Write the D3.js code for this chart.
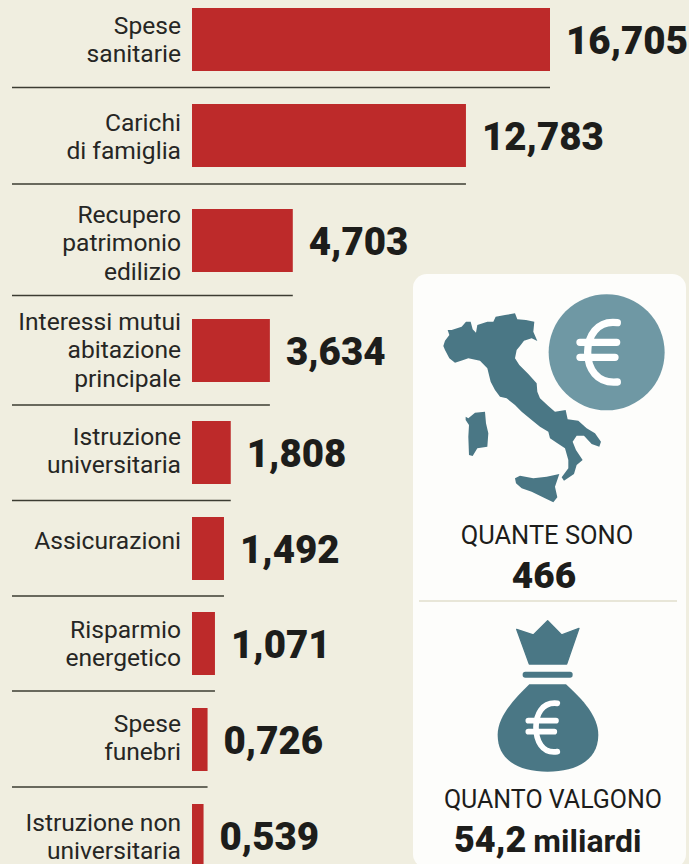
<!DOCTYPE html>
<html><head><meta charset="utf-8">
<script src="https://cdn.jsdelivr.net/npm/d3@7"></script>
<style>html,body{margin:0;padding:0;background:#f0eee0;overflow:hidden}svg{display:block}text{font-family:Roboto,sans-serif}</style>
</head><body><svg id="c" width="689" height="864"></svg>
<script>
const categories=["Spese sanitarie","Carichi di famiglia","Recupero patrimonio edilizio","Interessi mutui abitazione principale","Istruzione universitaria","Assicurazioni","Risparmio energetico","Spese funebri","Istruzione non universitaria"];
const labelLines=[["Spese","sanitarie"],["Carichi","di famiglia"],["Recupero","patrimonio","edilizio"],["Interessi mutui","abitazione","principale"],["Istruzione","universitaria"],["Assicurazioni"],["Risparmio","energetico"],["Spese","funebri"],["Istruzione non","universitaria"]];
const values=[16.705,12.783,4.703,3.634,1.808,1.492,1.071,0.726,0.539];
const valueLabels=["16,705","12,783","4,703","3,634","1,808","1,492","1,071","0,726","0,539"];
const rowTops=[8,104,209,319,421,517,612,708,804];
const labelBaselines=[34,131,223,330,445,549,638,732,831];
const ruleYs=[87.5,184,295.5,405,500.5,596,691,787];
const italy=[[130,228],[135,212],[148,195],[143,180],[155,180],[185,170],[198,155],[212,155],[218,178],[228,188],[232,165],[262,155],[280,155],[287,140],[315,135],[345,130],[352,148],[378,150],[403,155],[400,185],[412,213],[395,205],[372,212],[360,228],[350,240],[345,265],[358,285],[385,312],[410,340],[412,365],[420,385],[445,408],[465,425],[497,420],[503,448],[535,452],[560,475],[585,490],[603,515],[598,530],[575,522],[552,497],[530,497],[518,515],[528,540],[548,570],[530,585],[522,612],[492,632],[485,622],[505,595],[505,570],[495,535],[470,518],[450,505],[445,485],[420,470],[395,450],[365,425],[345,405],[320,385],[300,380],[285,360],[272,335],[262,295],[240,272],[205,265],[190,270],[165,278],[148,265],[135,240]];
const sardinia=[[197,440],[205,445],[225,428],[255,425],[258,460],[265,490],[262,530],[232,535],[218,558],[207,555],[205,500],[207,465],[197,450]];
const sicily=[[345,625],[360,617],[400,625],[440,620],[478,612],[465,650],[472,682],[460,697],[435,685],[395,665],[365,655],[348,640]];

const svg=d3.select("#c");
const ink="#1d1d1b",red="#bd2a2a",teal="#4a7785";
const x=d3.scaleLinear().domain([0,16.705]).range([192,550]);
const y=d3.scaleOrdinal().domain(categories).range(rowTops);
const labY=d3.scaleOrdinal().domain(categories).range(labelBaselines);
const barH=63;
svg.append("rect").attr("width",689).attr("height",864).attr("fill","#f0eee0");

const rows=categories.map((c,i)=>({c,v:values[i],lines:labelLines[i],t:valueLabels[i],i}));
svg.selectAll(".bar").data(rows).join("rect").attr("class","bar")
 .attr("x",x(0)).attr("y",d=>y(d.c)).attr("width",d=>x(d.v)-x(0)).attr("height",barH).attr("fill",red);
svg.selectAll(".rule").data(rows.slice(0,ruleYs.length)).join("line").attr("class","rule")
 .attr("x1",12).attr("x2",d=>x(d.v)).attr("y1",d=>ruleYs[d.i]).attr("y2",d=>ruleYs[d.i])
 .attr("stroke","#3c3c32").attr("stroke-width",1.4);
svg.selectAll(".val").data(rows).join("text").attr("class","val")
 .attr("x",d=>x(d.v)+16).attr("y",d=>y(d.c)+45.5)
 .attr("font-size",38.5).attr("font-weight",900).attr("fill",ink).text(d=>d.t);
const lh=28.3;
rows.forEach(d=>{
 d.lines.forEach((l,j)=>{
  svg.append("text").attr("class","lab").attr("x",181).attr("text-anchor","end")
   .attr("y",labY(d.c)+j*lh).attr("font-size",24.6).attr("fill","#262624").text(l);
 });
});

// panel
svg.append("rect").attr("x",413).attr("y",274).attr("width",273).attr("height",594).attr("rx",14).attr("fill","#fdfdfb");
svg.append("line").attr("x1",419).attr("x2",677).attr("y1",601).attr("y2",601).attr("stroke","#e8e6d8").attr("stroke-width",2);
const Z1=svg.append("g").attr("transform","translate(400,270) scale(0.3333)");
const line=d3.line().curve(d3.curveLinearClosed);
[italy,sardinia,sicily].forEach(p=>Z1.append("path").attr("d",line(p)).attr("fill",teal));
Z1.append("circle").attr("cx",620).attr("cy",247).attr("r",174).attr("fill","#6f98a4");
Z1.append("path").attr("d","M652 158 C590 150 563 200 563 247 C563 295 590 342 652 336 M540 217 H650 M540 262 H645").attr("fill","none").attr("stroke","#fff").attr("stroke-width",22).attr("stroke-linecap","round");
const Z2=svg.append("g").attr("transform","translate(400,590) scale(0.3333)");
Z2.append("path").attr("d","M350 118 L400 135 L443 92 L485 135 L537 115 L500 222 L388 222 Z").attr("fill",teal).attr("stroke",teal).attr("stroke-width",4).attr("stroke-linejoin","round");
Z2.append("rect").attr("x",368).attr("y",245).attr("width",150).attr("height",18).attr("rx",8).attr("fill",teal);
Z2.append("path").attr("d","M388 283 L498 283 C550 330 595 380 595 435 C595 510 530 545 443 545 C355 545 293 510 293 435 C293 380 340 330 388 283 Z").attr("fill",teal);
Z2.append("path").attr("d","M472 340 C425 335 408 375 408 412 C408 450 425 492 472 485 M385 392 H468 M385 425 H463").attr("fill","none").attr("stroke","#fff").attr("stroke-width",17).attr("stroke-linecap","round");

const tx=(t,xx,yy,fs,fw,anchor)=>svg.append("text").attr("x",xx).attr("y",yy).attr("font-size",fs).attr("font-weight",fw).attr("text-anchor",anchor||"middle").attr("fill",ink).text(t);
tx("QUANTE SONO",547,544,25.5,400);
tx("466",544,588,37,900);
tx("QUANTO VALGONO",553,808,25,400);
const t=tx("54,2",454,852,36,900,"start");
t.append("tspan").attr("font-size",32).attr("font-weight",700).attr("dx",7).text("miliardi");
</script></body></html>
